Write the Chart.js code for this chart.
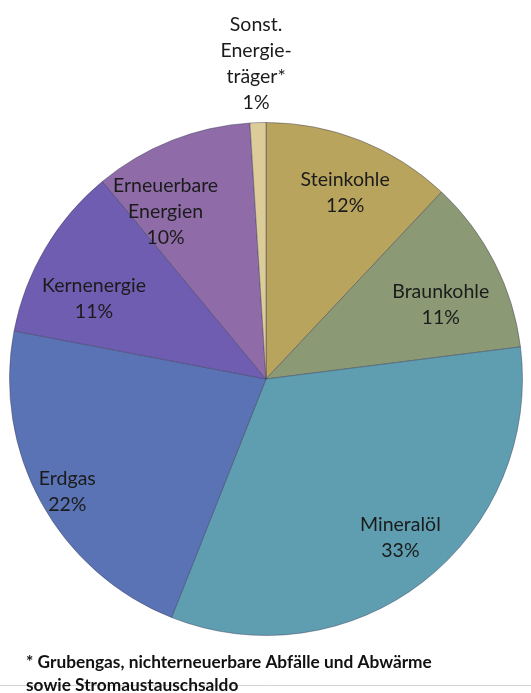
<!DOCTYPE html>
<html>
<head>
<meta charset="utf-8">
<script src="https://cdn.jsdelivr.net/npm/chart.js@4/dist/chart.umd.min.js"></script>
<style>
  html, body { margin: 0; padding: 0; background: #ffffff; }
  #wrap { position: relative; width: 531px; height: 693px; }
</style>
</head>
<body>
<div id="wrap"><canvas id="pie" width="531" height="693"></canvas></div>
<script>
// Primärenergieverbrauch nach Energieträgern (Anteile in %)
const categories = [
  ['Steinkohle'],
  ['Braunkohle'],
  ['Mineralöl'],
  ['Erdgas'],
  ['Kernenergie'],
  ['Erneuerbare', 'Energien'],
  ['Sonst.', 'Energie-', 'träger*']
];
const shares = [12, 11, 33, 22, 11, 10, 1];
const footnoteLines = [
  '* Grubengas, nichterneuerbare Abfälle und Abwärme',
  'sowie Stromaustauschsaldo'
];

const sliceColors = ['#B8A45C', '#8B9A74', '#5E9EB0', '#5A73B5', '#6E5DB0', '#8F6CA7', '#DCCC98'];

// label placement: radial fraction of the radius and angular shift (degrees)
const labelPlacement = [
  { r: 0.79, shift: 1.4 },
  { r: 0.74, shift: 4 },
  { r: 0.81, shift: -2.5 },
  { r: 0.89, shift: -0.7 },
  { r: 0.74, shift: -5.6 },
  { r: 0.76, shift: -9.4 },
  { r: 1.23, shift: 0 }
];

const FONT = 'Lato, "Open Sans", sans-serif';

const sliceLabels = {
  id: 'sliceLabels',
  afterDatasetsDraw(chart) {
    const ctx = chart.ctx;
    const meta = chart.getDatasetMeta(0);
    ctx.save();
    ctx.font = '19.5px ' + FONT;
    ctx.fillStyle = '#1b1b1b';
    ctx.textAlign = 'center';
    ctx.textBaseline = 'middle';
    const lineH = 26;
    meta.data.forEach((arc, i) => {
      const p = labelPlacement[i];
      const mid = (arc.startAngle + arc.endAngle) / 2 + p.shift * Math.PI / 180;
      const dist = arc.outerRadius * p.r;
      const cx = arc.x + Math.cos(mid) * dist;
      const cy = arc.y + Math.sin(mid) * dist;
      const lines = categories[i].concat([shares[i] + '%']);
      const top = cy - (lines.length - 1) * lineH / 2;
      lines.forEach((t, k) => ctx.fillText(t, cx, top + k * lineH));
    });
    ctx.restore();
  }
};

const footnote = {
  id: 'footnote',
  afterDraw(chart) {
    const ctx = chart.ctx;
    ctx.save();
    ctx.strokeStyle = '#d4d4d4';
    ctx.lineWidth = 1;
    ctx.beginPath();
    ctx.moveTo(0, 685.5);
    ctx.lineTo(531, 685.5);
    ctx.stroke();
    ctx.font = 'bold 17.3px ' + FONT;
    ctx.fillStyle = '#111111';
    ctx.textAlign = 'left';
    ctx.textBaseline = 'alphabetic';
    ctx.fillText(footnoteLines[0], 26, 668);
    ctx.fillText(footnoteLines[1], 26, 691);
    ctx.restore();
  }
};

new Chart(document.getElementById('pie'), {
  type: 'pie',
  data: {
    labels: categories.map(c => c.join(' ')),
    datasets: [{
      data: shares,
      backgroundColor: sliceColors,
      borderColor: 'rgba(60,60,90,0.45)',
      borderWidth: 1
    }]
  },
  options: {
    responsive: false,
    animation: false,
    layout: { padding: { top: 122, bottom: 57, left: 9, right: 8 } },
    plugins: {
      legend: { display: false },
      tooltip: { enabled: false }
    }
  },
  plugins: [sliceLabels, footnote]
});
</script>
</body>
</html>
